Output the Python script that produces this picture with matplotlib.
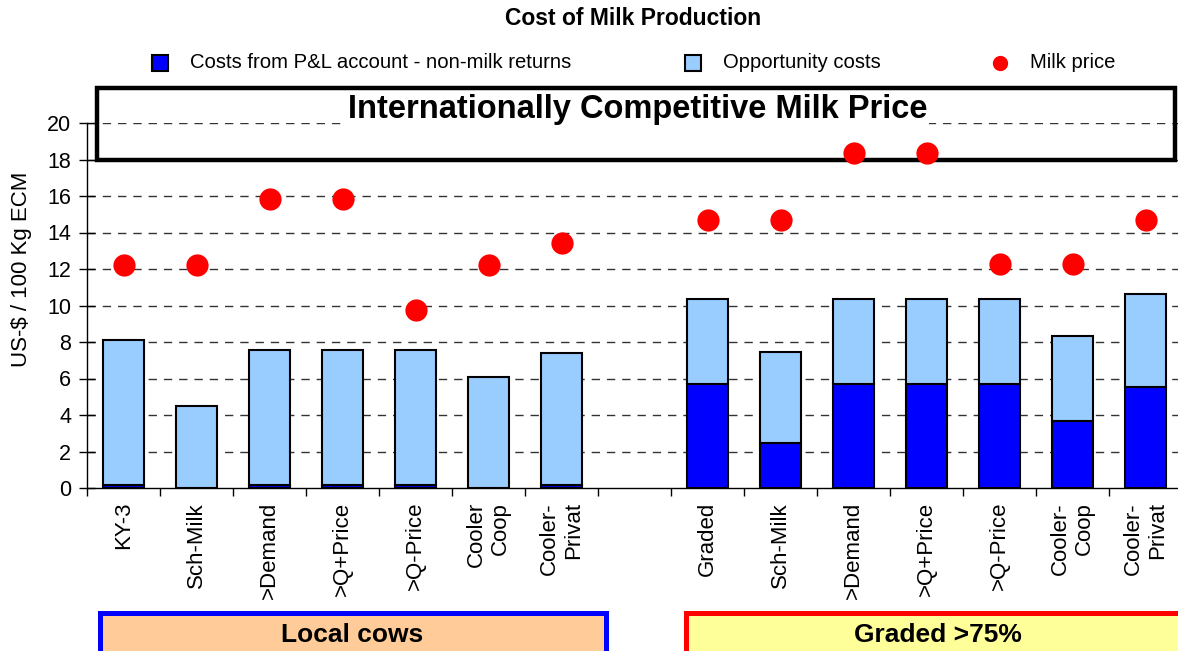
import numpy as np
import matplotlib.pyplot as plt
from matplotlib.patches import Rectangle
from matplotlib.lines import Line2D

plt.rcParams['font.family'] = ['Liberation Sans', 'DejaVu Sans']

# data (US-$ / 100 kg ECM)
local_labels = ["KY-3", "Sch-Milk", ">Demand", ">Q+Price", ">Q-Price", "Cooler\nCoop", "Cooler-\nPrivat"]
graded_labels = ["Graded", "Sch-Milk", ">Demand", ">Q+Price", ">Q-Price", "Cooler-\nCoop", "Cooler-\nPrivat"]

local_pnl = [0.15, 0.0, 0.15, 0.15, 0.15, 0.0, 0.15]
local_opp = [7.95, 4.5, 7.4, 7.4, 7.4, 6.1, 7.25]
local_price = [12.2, 12.2, 15.85, 15.85, 9.75, 12.2, 13.45]

graded_pnl = [5.68, 2.49, 5.68, 5.68, 5.72, 3.67, 5.52]
graded_opp = [4.68, 4.97, 4.68, 4.68, 4.64, 4.67, 5.11]
graded_price = [14.66, 14.66, 18.33, 18.33, 12.26, 12.26, 14.66]

competitive_low = 18.0
competitive_high = 21.9

# one empty slot between the two groups
labels = local_labels + [""] + graded_labels
pnl = np.array(local_pnl + [np.nan] + graded_pnl)
opp = np.array(local_opp + [np.nan] + graded_opp)
price = np.array(local_price + [np.nan] + graded_price)
x = np.arange(len(labels))

DARK = "#0000FF"
LIGHT = "#99CCFF"
RED = "#FF0000"

W, H = 1178, 651
fig = plt.figure(figsize=(W / 100, H / 100), dpi=100)
ax = fig.add_axes([87 / W, 163 / H, 1095 / W, 365 / H])

ax.bar(x, pnl, width=0.55, color=DARK, edgecolor="black", linewidth=1.5, zorder=3)
ax.bar(x, opp, width=0.55, bottom=pnl, color=LIGHT, edgecolor="black", linewidth=1.5, zorder=3)
ax.plot(x, price, "o", color=RED, markersize=16, markeredgewidth=0, zorder=6, clip_on=False)

ax.set_xlim(-0.5, len(labels) - 0.5)
ax.set_ylim(0, 20)
ax.set_yticks(np.arange(0, 21, 2))
ax.tick_params(axis="y", labelsize=15.5, length=11, width=1, direction="inout", pad=6)
ax.set_ylabel("US-$ / 100 Kg ECM", fontsize=16)
ax.yaxis.set_label_coords(-0.05, 0.6)

ax.set_xticks(x)
ax.set_xticklabels(labels, rotation=90, fontsize=16, va="top", ha="center", multialignment="right")
ax.tick_params(axis="x", length=0, pad=10)
ax.set_xticks(np.arange(-0.5, len(labels)), minor=True)
ax.tick_params(axis="x", which="minor", length=6, width=1, direction="out")

for s in ["top", "right"]:
    ax.spines[s].set_visible(False)
ax.spines["left"].set_linewidth(1)
ax.spines["bottom"].set_linewidth(1)

for yv in np.arange(2, 21, 2):
    ax.axhline(yv, color="#333333", linewidth=1, dashes=(6, 5), zorder=1)

# benchmark band
ax.add_patch(Rectangle((-0.36, competitive_low), 14.76, competitive_high - competitive_low,
                       facecolor="none", edgecolor="black", linewidth=3.2, clip_on=False, zorder=4))
ax.text(7.05, 20.75, "Internationally Competitive Milk Price", ha="center", va="center",
        fontsize=23.5, fontweight="bold",
        bbox=dict(facecolor="white", edgecolor="none", pad=1), zorder=5)

fig.text(0.537, 0.971, "Cost of Milk Production", ha="center", va="center", fontsize=16.5, fontweight="bold")

# legend row, laid out like the original
legend_items = [
    ("s", DARK, "black", "Costs from P&L account - non-milk returns", 160),
    ("s", LIGHT, "black", "Opportunity costs", 693),
    ("o", RED, RED, "Milk price", 1000),
]
ly = 1 - 63 / H
for marker, fc, ec, text, px in legend_items:
    fig.add_artist(Line2D([px / W], [ly], marker=marker, markersize=11, markerfacecolor=fc,
                          markeredgecolor=ec, markeredgewidth=1.5 if marker == "s" else 0,
                          linestyle="none", transform=fig.transFigure))
    fig.text((px + 30) / W, ly, text, ha="left", va="center", fontsize=14.6)

# group boxes under the axis
fig.patches.append(Rectangle((100 / W, -0.05), 506 / W, 0.05 + 38 / H, transform=fig.transFigure,
                             facecolor="#FFCC99", edgecolor=DARK, linewidth=3.6))
fig.patches.append(Rectangle((686 / W, -0.05), 500 / W, 0.05 + 38 / H, transform=fig.transFigure,
                             facecolor="#FFFF99", edgecolor=RED, linewidth=3.6))
fig.text(352 / W, 1 - 635 / H, "Local cows", ha="center", va="center", fontsize=19, fontweight="bold")
fig.text(938 / W, 1 - 635 / H, "Graded >75%", ha="center", va="center", fontsize=19, fontweight="bold")

fig.savefig("out.png", dpi=100)
